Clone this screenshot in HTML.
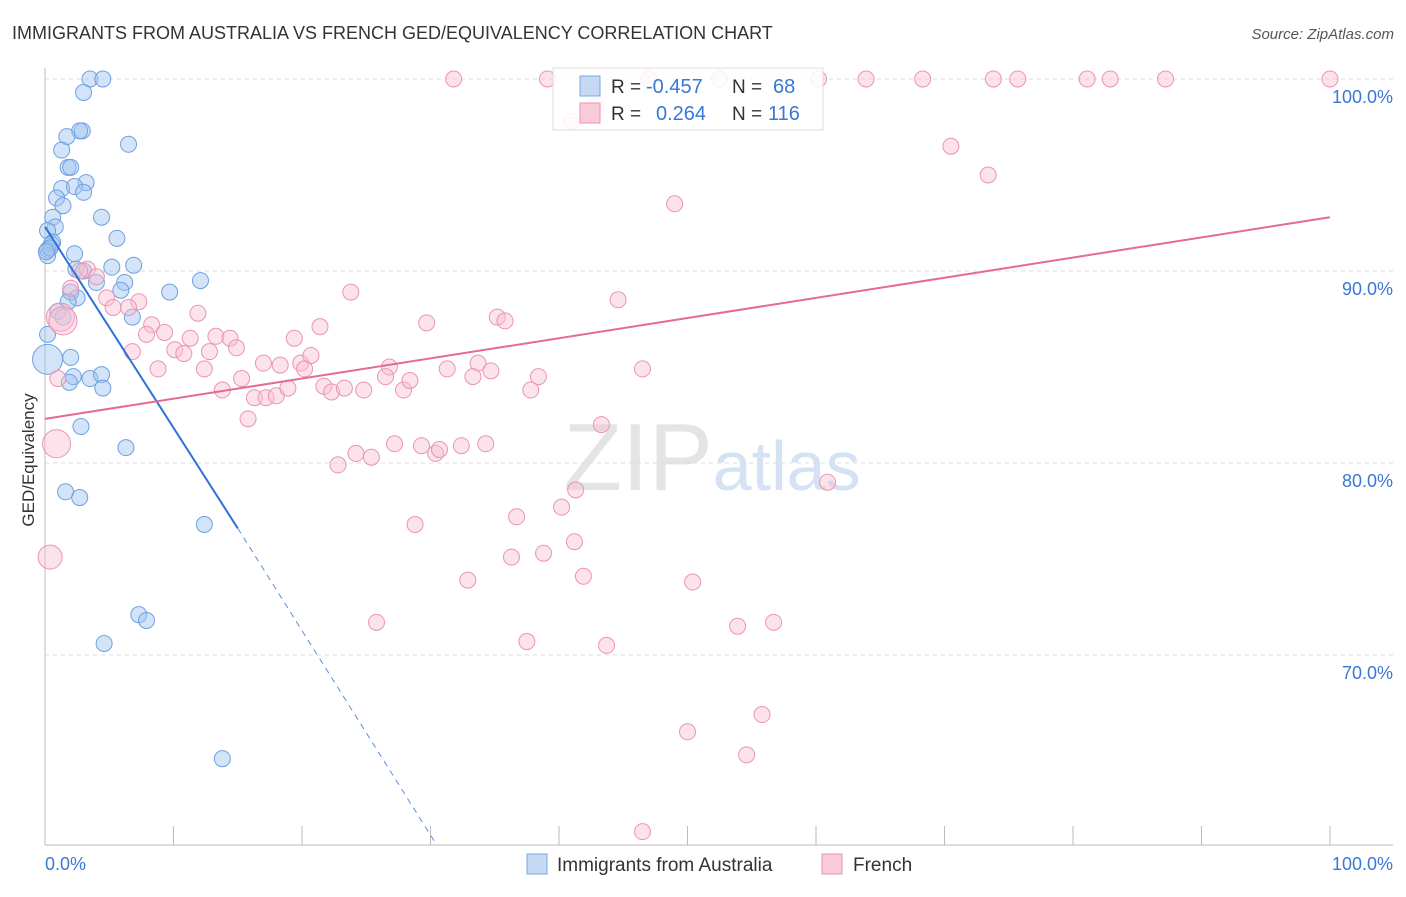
<!DOCTYPE html>
<html><head><meta charset="utf-8"><style>
body{margin:0;background:#fff;font-family:"Liberation Sans",sans-serif}
svg text{font-family:"Liberation Sans",sans-serif}
</style></head><body>
<svg id="c" width="1406" height="892">
<text x="12" y="39" font-size="18" fill="#333">IMMIGRANTS FROM AUSTRALIA VS FRENCH GED/EQUIVALENCY CORRELATION CHART</text>
<text x="1394" y="39" font-size="15" fill="#555" font-style="italic" text-anchor="end">Source: ZipAtlas.com</text>
<text x="712" y="490" font-size="96" fill="#e4e4e4" text-anchor="middle" font-family="Liberation Serif">ZIP<tspan fill="#d4e2f4" font-family="Liberation Sans" font-size="70">atlas</tspan></text>
<text x="34" y="460" font-size="17" fill="#333" transform="rotate(-90 34 460)" text-anchor="middle">GED/Equivalency</text>
<g id="grid"></g><g id="pts"></g><g id="trend"></g>
<g>
<rect x="553" y="68" width="270" height="62" fill="rgba(255,255,255,0.85)" stroke="#ddd"/>
<rect x="580" y="76" width="20" height="20" fill="#c5d9f5" stroke="#7aa7e3"/>
<rect x="580" y="103" width="20" height="20" fill="#f9cbd9" stroke="#ea93b1"/>
<text x="611" y="93" font-size="19" fill="#333">R =</text>
<text x="646" y="93" font-size="20" fill="#3a78d6">-0.457</text>
<text x="732" y="93" font-size="19" fill="#333">N =</text>
<text x="773" y="93" font-size="20" fill="#3a78d6">68</text>
<text x="611" y="120" font-size="19" fill="#333">R =</text>
<text x="656" y="120" font-size="20" fill="#3a78d6">0.264</text>
<text x="732" y="120" font-size="19" fill="#333">N =</text>
<text x="768" y="120" font-size="20" fill="#3a78d6">116</text>
</g>
<g>
<rect x="527" y="854" width="20" height="20" fill="#c5d9f5" stroke="#7aa7e3"/>
<text x="557" y="871" font-size="19" fill="#333">Immigrants from Australia</text>
<rect x="822" y="854" width="20" height="20" fill="#f9cbd9" stroke="#ea93b1"/>
<text x="853" y="871" font-size="19" fill="#333">French</text>
</g>
<text x="45" y="870" font-size="18" fill="#3a78d6">0.0%</text>
<text x="1393" y="870" font-size="18" fill="#3a78d6" text-anchor="end">100.0%</text>
</svg>
<script>
const yTicks=[100,90,80,70];
const blueX=[3.5,4.5,3,2.9,2.7,1.7,6.5,1.3,1.8,2,3.2,1.3,2.3,3,0.9,1.4,4.4,0.6,0.8,0.2,5.6,0.6,0.5,0.2,2.3,0.2,2.4,5.2,6.9,3,12.1,4,6.2,5.9,2,9.7,2.5,1.8,1,1.4,6.8,0.2,2,2.2,3.5,4.4,1.9,4.5,2.8,6.3,1.6,2.7,12.4,7.3,7.9,4.6,13.8,0.2,0.4,0.1];
const blueY=[100,100,99.3,97.3,97.3,97,96.6,96.3,95.4,95.4,94.6,94.3,94.4,94.1,93.8,93.4,92.8,92.8,92.3,92.1,91.7,91.5,91.4,91.1,90.9,90.8,90.1,90.2,90.3,90,89.5,89.4,89.4,89,88.9,88.9,88.6,88.4,87.9,87.6,87.6,86.7,85.5,84.5,84.4,84.6,84.2,83.9,81.9,80.8,78.5,78.2,76.8,72.1,71.8,70.6,64.6,85.4,91.2,91];
const blueR=[8,8,8,8,8,8,8,8,8,8,8,8,8,8,8,8,8,8,8,8,8,8,8,8,8,8,8,8,8,8,8,8,8,8,8,8,8,8,8,8,8,8,8,8,8,8,8,8,8,8,8,8,8,8,8,8,8,15,8,8];
const pinkX=[31.8,39.1,47,52.5,60.2,63.9,68.3,73.8,75.7,81.1,82.9,87.2,100,41,42.9,70.5,73.4,49,3.3,2.7,4,2,4.8,7.3,6.5,5.3,11.9,23.8,44.6,8.3,9.3,7.9,11.3,13.3,14.4,10.1,10.8,12.8,14.9,19.4,21.4,29.7,35.2,35.8,6.8,8.8,12.4,15.3,17,18.3,19.9,20.7,20.2,26.8,26.5,31.3,33.7,33.3,34.7,38.4,46.5,13.8,16.3,17.2,18,18.9,21.7,22.3,23.3,24.8,27.9,28.4,37.8,15.8,43.3,24.2,25.4,22.8,27.2,29.3,30.4,30.7,32.4,34.3,41.3,40.2,60.9,36.7,28.8,38.8,41.2,36.3,32.9,41.9,50.4,25.8,53.9,56.7,37.5,43.7,55.8,50,54.6,46.5,1.2,1.4,0.9,0.4,1];
const pinkY=[100,100,100,100,100,100,100,100,100,100,100,100,100,97.8,98.6,96.5,95,93.5,90.1,90,89.7,89.1,88.6,88.4,88.1,88.1,87.8,88.9,88.5,87.2,86.8,86.7,86.5,86.6,86.5,85.9,85.7,85.8,86,86.5,87.1,87.3,87.6,87.4,85.8,84.9,84.9,84.4,85.2,85.1,85.2,85.6,84.9,85,84.5,84.9,85.2,84.5,84.8,84.5,84.9,83.8,83.4,83.4,83.5,83.9,84,83.7,83.9,83.8,83.8,84.3,83.8,82.3,82,80.5,80.3,79.9,81,80.9,80.5,80.7,80.9,81,78.6,77.7,79,77.2,76.8,75.3,75.9,75.1,73.9,74.1,73.8,71.7,71.5,71.7,70.7,70.5,66.9,66,64.8,60.8,87.6,87.4,81,75.1,84.4];
const pinkR=pinkX.map((v,i)=>[104,105,106,107].includes(i)?(i==107?12:14):8);
const NS="http://www.w3.org/2000/svg";
const X=v=>45+v*12.85, Y=v=>79+(100-v)*19.2;
function mk(t,a,p){const e=document.createElementNS(NS,t);for(const k in a)e.setAttribute(k,a[k]);p.appendChild(e);return e;}
const grid=document.getElementById('grid');
yTicks.forEach(t=>{
 const l=mk('line',{x1:45,x2:1393,y1:Y(t),y2:Y(t),stroke:'#ddd','stroke-dasharray':'4 4'},grid);
 
 
 const tx=mk('text',{x:1393,y:Y(t)+24,'font-size':18,fill:'#3a78d6','text-anchor':'end'},grid);
 tx.textContent=t.toFixed(1)+'%';
 
 
});
mk('line',{x1:45,x2:45,y1:68,y2:845,stroke:'#bbb'},grid);
mk('line',{x1:45,x2:1393,y1:845,y2:845,stroke:'#bbb'},grid);
for(let i=1;i<=10;i++){mk('line',{x1:45+i*128.5,x2:45+i*128.5,y1:826,y2:845,stroke:'#bbb'},grid);}
const pts=document.getElementById('pts');
blueX.forEach((v,i)=>{const c=mk('circle',{cx:X(v),cy:Y(blueY[i]),r:blueR[i],fill:'rgba(160,196,240,0.45)',stroke:'#6ea0e0','stroke-width':1},pts);
 
 });
pinkX.forEach((v,i)=>{const c=mk('circle',{cx:X(v),cy:Y(pinkY[i]),r:pinkR[i],fill:'rgba(248,190,210,0.45)',stroke:'#eb94b3','stroke-width':1},pts);
 
 });
const tr=document.getElementById('trend');
const b=mk('line',{x1:X(0),y1:Y(92.3),x2:X(15),y2:Y(76.6),stroke:'#2f72d6','stroke-width':2},tr);


mk('line',{x1:X(15),y1:Y(76.6),x2:X(30.3),y2:Y(60.3),stroke:'#5a8fdc','stroke-width':1,'stroke-dasharray':'6 5'},tr);
const p=mk('line',{x1:X(0),y1:Y(82.3),x2:X(100),y2:Y(92.8),stroke:'#e56b96','stroke-width':2},tr);


</script>
</body></html>
